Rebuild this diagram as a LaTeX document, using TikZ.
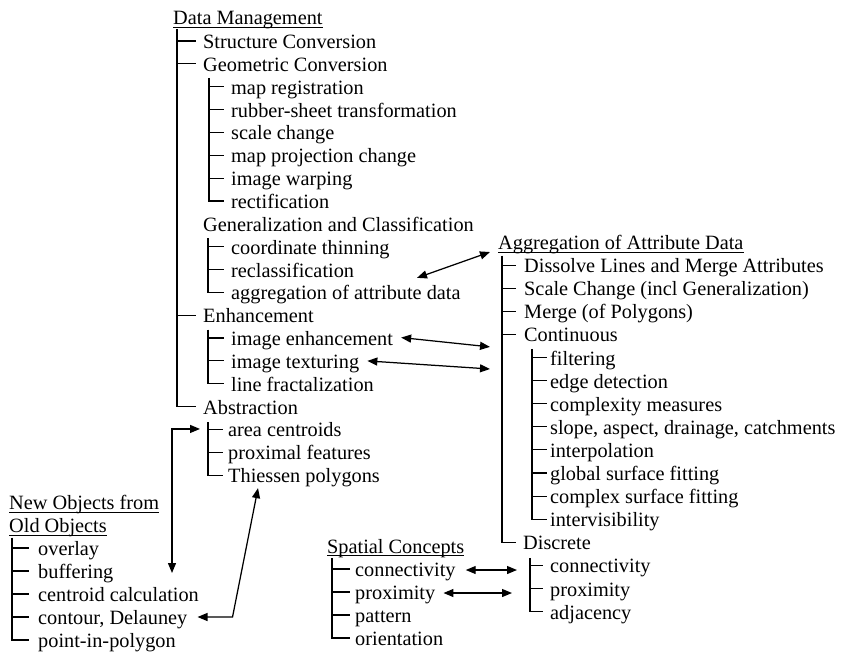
\documentclass[tikz,border=0pt]{standalone}
\usepackage{fontspec}
\setmainfont{Liberation Serif}
\usetikzlibrary{arrows.meta,calc}
\tikzset{
  lbl/.style={anchor=base west, inner sep=0pt, font=\fontsize{20.3}{24}\selectfont},
  treeline/.style={line width=1.15pt},
  ulin/.style={line width=0.9pt},
  dblarr/.style={line width=1.25pt, {Triangle[length=10pt,width=8pt]}-{Triangle[length=10pt,width=8pt]}},
}
\newcommand\brmid[3]{\coordinate (#2t) at ([xshift=-#3,yshift=7.5pt]#2.base west);
  \draw[treeline] (#1 |- #2t) -- (#2t);}
\newcommand\brlast[3]{\coordinate (#2t) at ([xshift=-#3,yshift=7.5pt]#2.base west);
  \draw[treeline] (#1) |- (#2t);}
\newcommand\ulnode[1]{\draw[ulin] ([yshift=-2.6pt]#1.base west) -- ([yshift=-2.6pt]#1.base east);}
\begin{document}
\begin{tikzpicture}[x=1pt,y=-1pt]
\useasboundingbox (0,0) rectangle (844,657);
\fill[white] (0,0) rectangle (844,657);
% ---------------- Data Management tree ----------------
\node[lbl] (dm) at (173,24.5) {Data Management};
\node[lbl] (sc)  at (203,48.5)   {Structure Conversion};
\node[lbl] (gc)  at (203,71.35)  {Geometric Conversion};
\node[lbl] (mr)  at (231,94.2)   {map registration};
\node[lbl] (rs)  at (231,117.05) {rubber-sheet transformation};
\node[lbl] (sch) at (231,139.9)  {scale change};
\node[lbl] (mp)  at (231,162.75) {map projection change};
\node[lbl] (iw)  at (231,185.6)  {image warping};
\node[lbl] (rec) at (231,208.45) {rectification};
\node[lbl] (gen) at (203,231.3)  {Generalization and Classification};
\node[lbl] (cth) at (231,254.15) {coordinate thinning};
\node[lbl] (rcl) at (231,277.0)  {reclassification};
\node[lbl] (agg) at (231,299.85) {aggregation of attribute data};
\node[lbl] (enh) at (203,322.7)  {Enhancement};
\node[lbl] (ie)  at (231,345.55) {image enhancement};
\node[lbl] (itx) at (231,368.4)  {image texturing};
\node[lbl] (lf)  at (231,391.25) {line fractalization};
\node[lbl] (abs) at (203,414.1)  {Abstraction};
\node[lbl] (ac)  at (228,436.95) {area centroids};
\node[lbl] (pf)  at (228,459.8)  {proximal features};
\node[lbl] (tp)  at (228,482.65) {Thiessen polygons};
\ulnode{dm}
\coordinate (v0) at ([xshift=4pt,yshift=-4.5pt]dm.base west);
\brmid{v0}{sc}{7pt}
\brmid{v0}{gc}{7pt}
\brmid{v0}{enh}{7pt}
\brlast{v0}{abs}{7pt}
\coordinate (v1) at ([xshift=6pt,yshift=-6.5pt]gc.base west);
\brmid{v1}{mr}{7pt}\brmid{v1}{rs}{7pt}\brmid{v1}{sch}{7pt}
\brmid{v1}{mp}{7pt}\brmid{v1}{iw}{7pt}\brlast{v1}{rec}{7pt}
\coordinate (v2) at ([xshift=5pt,yshift=-7pt]gen.base west);
\brmid{v2}{cth}{7pt}\brmid{v2}{rcl}{7pt}\brlast{v2}{agg}{7pt}
\coordinate (v3) at ([xshift=5pt,yshift=-7pt]enh.base west);
\brmid{v3}{ie}{7pt}\brmid{v3}{itx}{7pt}\brlast{v3}{lf}{7pt}
\coordinate (v4) at ([xshift=5pt,yshift=-8pt]abs.base west);
\brmid{v4}{ac}{5pt}\brmid{v4}{pf}{5pt}\brlast{v4}{tp}{5pt}
% ---------------- Aggregation tree ----------------
\node[lbl] (AG)   at (498,249.5) {Aggregation of Attribute Data};
\node[lbl] (dl)   at (524,272.6) {Dissolve Lines and Merge Attributes};
\node[lbl] (scg)  at (524,295.7) {Scale Change (incl Generalization)};
\node[lbl] (mg)   at (524,318.8) {Merge (of Polygons)};
\node[lbl] (cont) at (524,341.9) {Continuous};
\node[lbl] (flt)  at (550,365.0) {filtering};
\node[lbl] (ed)   at (550,388.1) {edge detection};
\node[lbl] (cm)   at (550,411.2) {complexity measures};
\node[lbl] (sl)   at (550,434.3) {slope, aspect, drainage, catchments};
\node[lbl] (ip)   at (550,457.4) {interpolation};
\node[lbl] (gs)   at (550,480.5) {global surface fitting};
\node[lbl] (cs)   at (550,503.6) {complex surface fitting};
\node[lbl] (iv)   at (550,526.7) {intervisibility};
\node[lbl] (disc) at (523,549.8) {Discrete};
\node[lbl] (dcn)  at (550,572.9) {connectivity};
\node[lbl] (dpx)  at (550,596.0) {proximity};
\node[lbl] (dadj) at (550,619.1) {adjacency};
\ulnode{AG}
\coordinate (vR) at ([xshift=4pt,yshift=-6pt]AG.base west);
\brmid{vR}{dl}{8pt}\brmid{vR}{scg}{8pt}\brmid{vR}{mg}{8pt}
\brmid{vR}{cont}{8pt}\brlast{vR}{disc}{7pt}
\coordinate (vC) at ([xshift=8pt,yshift=-7pt]cont.base west);
\brmid{vC}{flt}{3pt}\brmid{vC}{ed}{3pt}\brmid{vC}{cm}{3pt}\brmid{vC}{sl}{3pt}
\brmid{vC}{ip}{3pt}\brmid{vC}{gs}{3pt}\brmid{vC}{cs}{3pt}\brlast{vC}{iv}{3pt}
\coordinate (vD) at ([xshift=7pt,yshift=-8pt]disc.base west);
\brmid{vD}{dcn}{7pt}\brmid{vD}{dpx}{7pt}\brlast{vD}{dadj}{7pt}
% ---------------- Spatial Concepts ----------------
\node[lbl] (SC)  at (327,553) {Spatial Concepts};
\node[lbl] (scn) at (355,576.5) {connectivity};
\node[lbl] (spx) at (355,599.5) {proximity};
\node[lbl] (spt) at (355,622.5) {pattern};
\node[lbl] (sor) at (355,645.5) {orientation};
\ulnode{SC}
\coordinate (vS) at ([xshift=5pt,yshift=-5pt]SC.base west);
\brmid{vS}{scn}{5pt}\brmid{vS}{spx}{5pt}\brmid{vS}{spt}{5pt}\brlast{vS}{sor}{5pt}
% ---------------- New Objects ----------------
\node[lbl] (NO1) at (9,509.5) {New Objects from};
\node[lbl] (NO2) at (9,532.5) {Old Objects};
\node[lbl] (ov)  at (38,555.5) {overlay};
\node[lbl] (bf)  at (38,578.5) {buffering};
\node[lbl] (cc)  at (38,601.5) {centroid calculation};
\node[lbl] (cd)  at (38,624.5) {contour, Delauney};
\node[lbl] (pp)  at (38,647.5) {point-in-polygon};
\ulnode{NO1}\ulnode{NO2}
\coordinate (vN) at ([xshift=3pt,yshift=-5pt]NO2.base west);
\brmid{vN}{ov}{9pt}\brmid{vN}{bf}{9pt}\brmid{vN}{cc}{9pt}\brmid{vN}{cd}{9pt}\brlast{vN}{pp}{9pt}
% ---------------- Arrows ----------------
\draw[dblarr] ([xshift=186pt,yshift=22pt]agg.base west) -- ([xshift=-8pt,yshift=-2.5pt]AG.base west);
\draw[dblarr] ([xshift=8pt,yshift=8pt]ie.base east) -- ([xshift=-34pt,yshift=-5pt]cont.base west);
\draw[dblarr] ([xshift=8pt,yshift=7.5pt]itx.base east) -- ([xshift=-60pt,yshift=-4pt]flt.base west);
\coordinate (a4s) at ([xshift=134pt,yshift=5.5pt]bf.base west);
\coordinate (a4e) at ([xshift=-28pt,yshift=8pt]ac.base west);
\draw[dblarr] (a4s) |- (a4e);
\coordinate (a5s) at ([xshift=10pt,yshift=7.5pt]cd.base east);
\coordinate (a5c) at ([xshift=35pt]a5s);
\coordinate (a5e) at ([xshift=30pt,yshift=-5.5pt]tp.base west);
\draw[dblarr] (a5s) -- (a5c) -- (a5e);
\coordinate (s1s) at ([xshift=10pt,yshift=6.5pt]scn.base east);
\coordinate (s1e) at ([xshift=-33pt]dcn.base west);
\draw[dblarr] (s1s) -- (s1s -| s1e);
\coordinate (s2s) at ([xshift=8pt,yshift=6.5pt]spx.base east);
\coordinate (s2e) at ([xshift=-38pt]dpx.base west);
\draw[dblarr] (s2s) -- (s2s -| s2e);
\end{tikzpicture}
\end{document}
